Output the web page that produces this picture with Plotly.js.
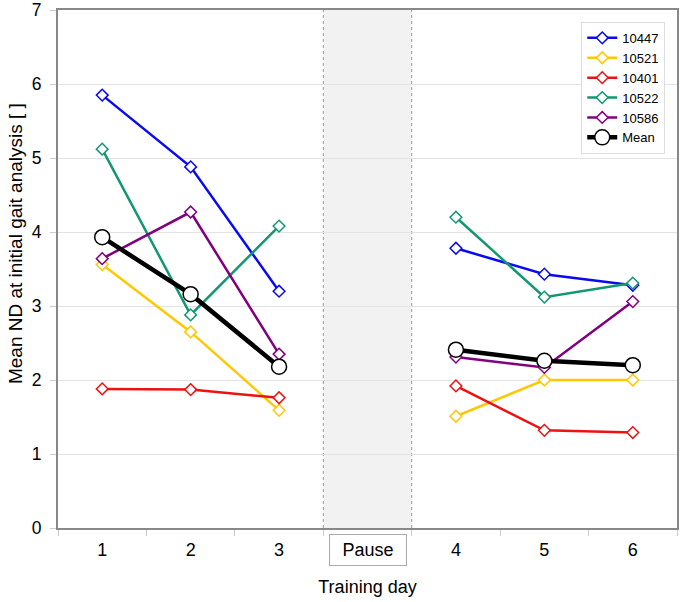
<!DOCTYPE html>
<html>
<head>
<meta charset="utf-8">
<script src="https://cdn.plot.ly/plotly-3.0.1.min.js"></script>
<style>html,body{margin:0;padding:0;background:#fff;}#chart{width:680px;height:602px;}</style>
</head>
<body>
<div id="chart"></div>
<script>
// Categories on the x axis (Pause is a gap between training blocks)
const categories = ['1', '2', '3', 'Pause', '4', '5', '6'];
const days = ['1', '2', '3', '4', '5', '6'];
const yTicks = [0, 1, 2, 3, 4, 5, 6, 7];

// Series values (Mean ND at initial gait analysis) per training day
const s10447 = [5.85, 4.88, 3.20, 3.78, 3.43, 3.28];
const s10521 = [3.56, 2.65, 1.59, 1.51, 2.00, 2.00];
const s10401 = [1.88, 1.87, 1.76, 1.92, 1.32, 1.29];
const s10522 = [5.12, 2.88, 4.08, 4.20, 3.12, 3.31];
const s10586 = [3.64, 4.27, 2.35, 2.31, 2.17, 3.06];
const sMean  = [3.93, 3.16, 2.18, 2.41, 2.26, 2.20];

const seriesNames = ['10447', '10521', '10401', '10522', '10586', 'Mean'];
const seriesValues = [s10447, s10521, s10401, s10522, s10586, sMean];
const colors = ['#0a0af0', '#ffc800', '#ee1111', '#139773', '#800080', '#000000'];

// Insert a gap at the Pause category
function withGap(vals) {
  return categories.map(c => {
    const i = days.indexOf(c);
    return i >= 0 ? vals[i] : null;
  });
}

const traces = seriesNames.map((name, k) => {
  const isMean = name === 'Mean';
  return {
    type: 'scatter',
    mode: 'lines+markers',
    name: name,
    x: categories,
    y: withGap(seriesValues[k]),
    connectgaps: false,
    line: {color: colors[k], width: isMean ? 4.5 : 2.5},
    marker: isMean
      ? {symbol: 'circle', size: 15, color: '#ffffff', line: {color: '#000000', width: 1.5}}
      : {symbol: 'diamond', size: 9, color: '#ffffff', line: {color: colors[k], width: 1.5}}
  };
});

const layout = {
  width: 680,
  height: 602,
  margin: {l: 58, r: 3, t: 10, b: 74},
  paper_bgcolor: '#ffffff',
  plot_bgcolor: '#ffffff',
  font: {family: 'Liberation Sans, Arial, sans-serif', size: 18, color: '#000'},
  showlegend: true,
  legend: {
    x: 0.981, xanchor: 'right', y: 0.977, yanchor: 'top',
    bgcolor: '#ffffff', bordercolor: '#dddddd', borderwidth: 1,
    font: {size: 13, color: '#000'},
    tracegroupgap: 0
  },
  xaxis: {
    type: 'category',
    categoryorder: 'array',
    categoryarray: categories,
    range: [-0.5, 6.5],
    tickmode: 'array',
    tickvals: categories,
    ticktext: categories.map(c => c === 'Pause' ? '' : c),
    tickson: 'boundaries',
    ticks: 'outside',
    ticklen: 6,
    tickcolor: '#cccccc',
    tickwidth: 1,
    ticklabelstandoff: 4,
    showgrid: false,
    showline: true,
    linecolor: '#888888',
    linewidth: 2,
    mirror: true,
    zeroline: false,
    tickfont: {size: 18},
    title: {text: 'Training day', font: {size: 18}, standoff: 22}
  },
  yaxis: {
    range: [0, 7.0001],
    tickmode: 'array',
    tickvals: yTicks,
    ticktext: yTicks.map(String),
    ticklabeloverflow: 'allow',
    ticks: 'outside',
    ticklen: 6,
    tickcolor: '#cccccc',
    showgrid: true,
    gridcolor: '#e3e3e3',
    gridwidth: 1,
    showline: true,
    linecolor: '#888888',
    linewidth: 2,
    mirror: true,
    zeroline: false,
    tickfont: {size: 17.5},
    ticklabelstandoff: 5
  },
  shapes: [
    {
      type: 'rect', layer: 'between',
      xref: 'x', yref: 'paper',
      x0: 2.5, x1: 3.5, y0: 0, y1: 1,
      fillcolor: '#f2f2f2',
      line: {width: 0}
    },
    {
      type: 'line', layer: 'between', xref: 'x', yref: 'paper',
      x0: 2.5, x1: 2.5, y0: 0, y1: 1,
      line: {color: '#999999', width: 1, dash: 'dot'}
    },
    {
      type: 'line', layer: 'between', xref: 'x', yref: 'paper',
      x0: 3.5, x1: 3.5, y0: 0, y1: 1,
      line: {color: '#999999', width: 1, dash: 'dot'}
    }
  ],
  annotations: [
    {
      xref: 'x', yref: 'paper',
      x: 'Pause', y: -0.0115, yanchor: 'top',
      text: 'Pause', showarrow: false,
      font: {size: 18, color: '#000'},
      bordercolor: '#aaaaaa', borderwidth: 1, borderpad: 4,
      width: 68, height: 22,
      bgcolor: '#ffffff'
    },
    {
      xref: 'paper', yref: 'paper',
      x: -0.0695, y: 0.55, xanchor: 'center', yanchor: 'middle',
      text: 'Mean ND at initial gait analysis [ ]',
      textangle: -90, showarrow: false,
      font: {size: 19, color: '#000'}
    }
  ]
};

Plotly.newPlot('chart', traces, layout, {displayModeBar: false, staticPlot: true});
</script>
</body>
</html>
